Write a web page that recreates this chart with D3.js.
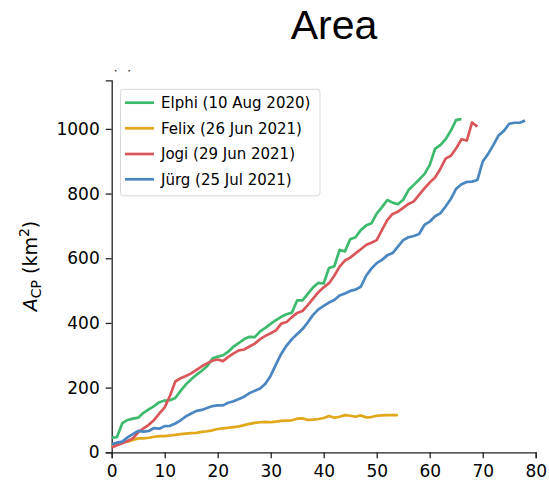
<!DOCTYPE html>
<html>
<head>
<meta charset="utf-8">
<script src="https://cdn.jsdelivr.net/npm/d3@7"></script>
<style>
  html, body { margin: 0; padding: 0; background: #fff; }
  svg { display: block; }
  text { font-family: "DejaVu Sans", Verdana, sans-serif; }
</style>
</head>
<body>
<svg id="chart" width="549" height="487"></svg>
<script>
// Cold-pool area (km²) per day for each event
const elphiArea = [45,47,90,100,104,107,122,133,143,155,160,161,168,190,210,226,240,252,266,290,
  296,300,311,327,338,350,357,356,374,385,397,409,419,427,432,470,470,490,510,524,
  522,570,575,626,621,659,665,687,701,708,738,758,780,772,767,781,811,827,843,860,
  888,938,950,968,995,1028,1030];
const felixArea = [20,26,32,33,38,43,43,45,48,50,50,52,54,56,58,59,60,63,65,68,
  72,74,76,78,80,84,88,91,93,94,93,95,97,98,99,104,105,100,101,103,
  106,112,107,110,115,113,110,114,108,109,113,114,115,115,115];
const jogiArea = [15,22,28,35,43,62,74,85,100,120,139,175,219,229,236,244,255,266,275,283,
  287,282,295,306,315,318,327,336,350,360,368,377,398,403,418,431,437,455,475,495,
  510,523,546,574,593,602,615,628,641,648,656,688,718,737,744,756,768,776,796,816,
  834,850,876,908,917,940,968,964,1020,1007];
const jurgArea = [25,30,33,46,56,66,64,66,75,73,81,82,89,99,111,120,128,131,137,143,
  145,145,153,158,165,172,183,190,197,212,237,272,305,330,350,366,381,402,425,442,
  453,463,471,485,491,499,503,512,546,568,585,595,609,616,636,656,665,669,675,703,
  713,730,739,760,784,815,829,836,837,842,899,922,950,980,994,1016,1019,1019,1026];

const seriesNames = ["Elphi (10 Aug 2020)", "Felix (26 Jun 2021)", "Jogi (29 Jun 2021)", "Jürg (25 Jul 2021)"];
const seriesColors = ["#3dba6e", "#e2a81c", "#d9575b", "#4a86c0"];
const seriesValues = [elphiArea, felixArea, jogiArea, jurgArea];

const xTicks = [0, 10, 20, 30, 40, 50, 60, 70, 80];
const yTicks = [0, 200, 400, 600, 800, 1000];

const svg = d3.select("#chart");
const plot = { left: 111.7, right: 535.7, top: 80.4, bottom: 452.3 };

const x = d3.scaleLinear().domain([0, 80]).range([plot.left, plot.right]);
const y = d3.scaleLinear().domain([0, 1150]).range([plot.bottom, plot.top]);

// Title
svg.append("text")
  .attr("x", 334).attr("y", 38.5)
  .attr("text-anchor", "middle")
  .style("font-family", "'Liberation Sans', Arial, sans-serif")
  .style("font-size", "41px")
  .attr("fill", "#000")
  .text("Area");

// Panel letter, partly cut off at the top of the axes area
const clip = svg.append("defs").append("clipPath").attr("id", "panelClip");
clip.append("rect").attr("x", 100).attr("y", 70).attr("width", 60).attr("height", 10);
svg.append("text")
  .attr("clip-path", "url(#panelClip)")
  .attr("x", 112).attr("y", 69)
  .style("font-size", "15px")
  .attr("fill", "#000")
  .text("(a)");

// Axes
const xAxis = svg.append("g")
  .attr("transform", `translate(0,${plot.bottom})`)
  .call(d3.axisBottom(x).tickValues(xTicks).tickSize(6).tickPadding(4).tickFormat(d3.format("d")));
const yAxis = svg.append("g")
  .attr("transform", `translate(${plot.left},0)`)
  .call(d3.axisLeft(y).tickValues(yTicks).tickSize(6).tickPadding(6).tickFormat(d3.format("d")));

[xAxis, yAxis].forEach(g => {
  g.select(".domain").attr("stroke", "#222").attr("stroke-width", 1.3);
  g.selectAll(".tick line").attr("stroke", "#222").attr("stroke-width", 1.3);
  g.selectAll(".tick text")
    .style("font-family", "'DejaVu Sans', Verdana, sans-serif")
    .style("font-size", "17px")
    .attr("fill", "#000");
});
xAxis.selectAll(".tick text").attr("dy", "0.85em");

// Y axis label
const yLabel = svg.append("text")
  .attr("transform", "translate(37,266) rotate(-90)")
  .attr("text-anchor", "middle")
  .style("font-size", "19px")
  .attr("fill", "#000");
yLabel.append("tspan").style("font-style", "italic").text("A");
yLabel.append("tspan").attr("dy", 4).style("font-size", "14px").text("CP");
yLabel.append("tspan").attr("dy", -4).text(" (km");
yLabel.append("tspan").attr("dy", -8).style("font-size", "14px").text("2");
yLabel.append("tspan").attr("dy", 8).text(")");

// Lines
const line = d3.line().x((d, i) => x(i)).y(d => y(d));
svg.append("g").selectAll("path")
  .data(seriesValues)
  .join("path")
  .attr("d", d => line(d))
  .attr("fill", "none")
  .attr("stroke", (d, i) => seriesColors[i])
  .attr("stroke-width", 2.7)
  .attr("stroke-linejoin", "round")
  .attr("stroke-linecap", "butt");

// Legend
const legend = svg.append("g");
legend.append("rect")
  .attr("x", 120.5).attr("y", 89.3)
  .attr("width", 199.5).attr("height", 106.5)
  .attr("rx", 3)
  .attr("fill", "#fff").attr("fill-opacity", 0.8)
  .attr("stroke", "#d8d8d8").attr("stroke-width", 1);
const rowY = [102.7, 128.3, 154, 179.3];
seriesNames.forEach((name, i) => {
  legend.append("line")
    .attr("x1", 125).attr("x2", 154)
    .attr("y1", rowY[i]).attr("y2", rowY[i])
    .attr("stroke", seriesColors[i]).attr("stroke-width", 2.7);
  legend.append("text")
    .attr("x", 161).attr("y", rowY[i]).attr("dy", "0.35em")
    .style("font-size", "15px")
    .attr("fill", "#000")
    .text(name);
});
</script>
</body>
</html>
